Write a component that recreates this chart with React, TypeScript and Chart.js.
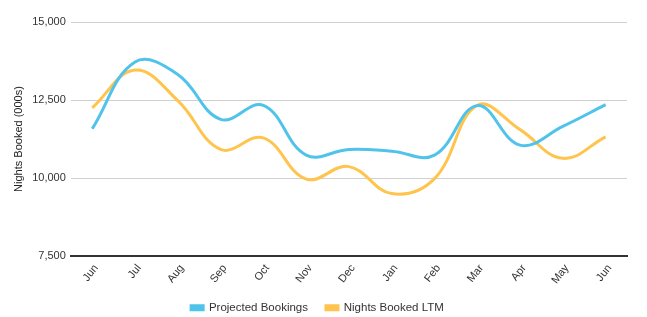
import React, { useEffect, useRef } from "react";
import { Chart, registerables } from "chart.js";

Chart.register(...registerables);

const categories = ["Jun", "Jul", "Aug", "Sep", "Oct", "Nov", "Dec", "Jan", "Feb", "Mar", "Apr", "May", "Jun"];
const projectedBookings = [11580, 13720, 13320, 11880, 12330, 10735, 10915, 10860, 10735, 12320, 11055, 11655, 12350];
const nightsBookedLTM = [12250, 13460, 12480, 10915, 11285, 9965, 10365, 9500, 9980, 12330, 11550, 10630, 11320];
const yMin = 7500;
const yMax = 15000;
const yStep = 2500;

const legendHeightPlugin = {
  id: "legendHeight",
  beforeUpdate(chart: any) {
    const lg = chart.legend;
    if (lg && !lg._patched) {
      const origFit = lg.fit;
      lg.fit = function () {
        origFit.call(this);
        this.height = 29;
      };
      const origDraw = lg.draw;
      lg.draw = function () {
        const ctx = this.ctx;
        ctx.save();
        ctx.translate(0, -4);
        origDraw.call(this);
        ctx.restore();
      };
      lg._patched = true;
    }
  },
};

export default function App() {
  const ref = useRef<HTMLCanvasElement | null>(null);
  useEffect(() => {
    document.body.style.margin = "0";
    const font = "Arial, 'Liberation Sans', sans-serif";
    const chart = new Chart(ref.current!, {
      type: "line",
      plugins: [legendHeightPlugin],
      data: {
        labels: categories,
        datasets: [
          {
            label: "Projected Bookings",
            data: projectedBookings,
            borderColor: "#4FC3EA",
            backgroundColor: "#4FC3EA",
            borderWidth: 3,
            tension: 0.4,
            pointRadius: 0,
          },
          {
            label: "Nights Booked LTM",
            data: nightsBookedLTM,
            borderColor: "#FFC44D",
            backgroundColor: "#FFC44D",
            borderWidth: 3,
            tension: 0.4,
            pointRadius: 0,
          },
        ],
      },
      options: {
        animation: false,
        responsive: false,
        maintainAspectRatio: false,
        layout: { padding: { top: 22, right: 20, left: 8, bottom: 0 } },
        plugins: {
          legend: {
            position: "bottom",
            labels: {
              boxWidth: 12,
              boxHeight: 4,
              color: "#333",
              font: { family: font, size: 11.5 },
              padding: 18,
            },
          },
          tooltip: { enabled: false },
        },
        scales: {
          x: {
            offset: true,
            grid: { display: false, drawTicks: false, tickLength: 0 },
            border: { color: "#333", width: 2 },
            afterFit: (scale: any) => {
              scale.height = 32;
            },
            afterUpdate: (scale: any) => {
              if (!scale._shiftPatched && typeof scale._computeLabelItems === "function") {
                const orig = scale._computeLabelItems;
                scale._computeLabelItems = function (area: any) {
                  const items = orig.call(this, area);
                  items.forEach((it: any) => {
                    if (it.options && it.options.translation) it.options.translation[0] += 4;
                  });
                  return items;
                };
                scale._shiftPatched = true;
                scale._labelItems = null;
              }
            },
            ticks: {
              color: "#333",
              font: { family: font, size: 11 },
              minRotation: 52,
              maxRotation: 52,
              padding: 6,
            },
          },
          y: {
            min: yMin,
            max: yMax,
            border: { display: false },
            grid: { color: "#d0d0d0", drawTicks: false },
            ticks: {
              stepSize: yStep,
              color: "#333",
              font: { family: font, size: 11 },
              padding: 5,
              callback: (v: any) => Number(v).toLocaleString("en-US"),
            },
            title: {
              display: true,
              text: "Nights Booked (000s)",
              color: "#222",
              font: { family: font, size: 11 },
              padding: { top: 4, bottom: 2 },
            },
          },
        },
      },
    });
    return () => chart.destroy();
  }, []);
  return (
    <div style={{ width: 647, height: 317 }}>
      <canvas ref={ref} width={647} height={317} />
    </div>
  );
}
